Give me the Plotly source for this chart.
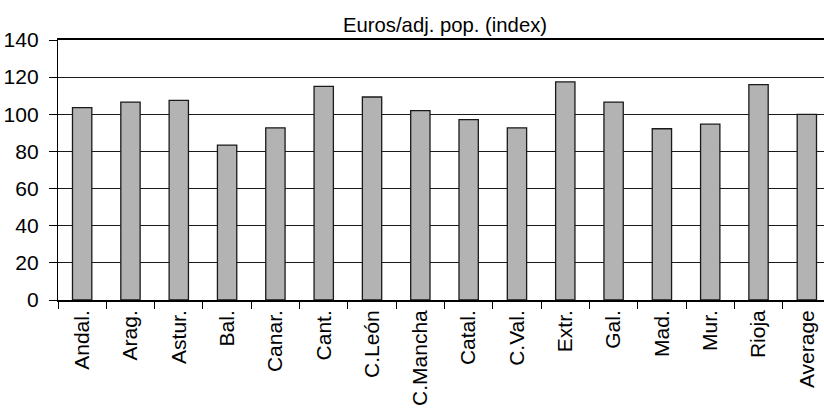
import plotly.graph_objects as go

# Regional index of euros per adjusted population (Average = 100)
regions = ["Andal.", "Arag.", "Astur.", "Bal.", "Canar.", "Cant.", "C.León",
           "C.Mancha", "Catal.", "C.Val.", "Extr.", "Gal.", "Mad.", "Mur.",
           "Rioja", "Average"]
index_values = [103.6, 106.6, 107.5, 83.4, 92.7, 115.0, 109.3,
                102.0, 97.1, 92.7, 117.4, 106.6, 92.2, 94.7,
                116.0, 100.0]
y_ticks = [0, 20, 40, 60, 80, 100, 120, 140]
chart_title = "Euros/adj. pop. (index)"

FONT = "Arial, 'Liberation Sans', Helvetica, sans-serif"
FSIZE = 21

fig = go.Figure(
    go.Bar(
        x=regions,
        y=index_values,
        width=0.40,
        marker=dict(color="#b3b3b3", line=dict(color="#1a1a1a", width=1.3)),
        hoverinfo="x+y",
    )
)

fig.update_layout(
    width=824,
    height=408,
    margin=dict(l=58, r=0, t=40, b=107.5, pad=0),
    plot_bgcolor="white",
    paper_bgcolor="white",
    font=dict(family=FONT, size=FSIZE, color="black"),
    showlegend=False,
)

# Title centred over the full category span (which runs past the right edge)
fig.add_annotation(
    text=chart_title,
    xref="x",
    x=7.5,
    xanchor="center",
    yref="paper",
    y=1 + 15 / 260.5,
    yanchor="middle",
    showarrow=False,
    font=dict(family=FONT, size=20.3, color="black"),
)

fig.update_xaxes(
    type="category",
    range=[-0.5, 15.355],
    tickson="boundaries",
    ticks="outside",
    ticklen=7,
    tickwidth=1.3,
    tickcolor="black",
    tickangle=-90,
    tickfont=dict(family=FONT, size=FSIZE, color="black"),
    showline=True,
    linecolor="black",
    linewidth=1.6,
    mirror=True,
    showgrid=False,
)

fig.update_yaxes(
    range=[0, 140],
    tickvals=y_ticks,
    ticks="outside",
    ticklen=8,
    tickwidth=1.3,
    tickcolor="black",
    ticklabelstandoff=6,
    tickfont=dict(family=FONT, size=FSIZE, color="black"),
    showline=True,
    linecolor="black",
    linewidth=1.3,
    showgrid=True,
    gridcolor="#1a1a1a",
    gridwidth=1.2,
    zeroline=False,
)

fig.write_html("out.html")
